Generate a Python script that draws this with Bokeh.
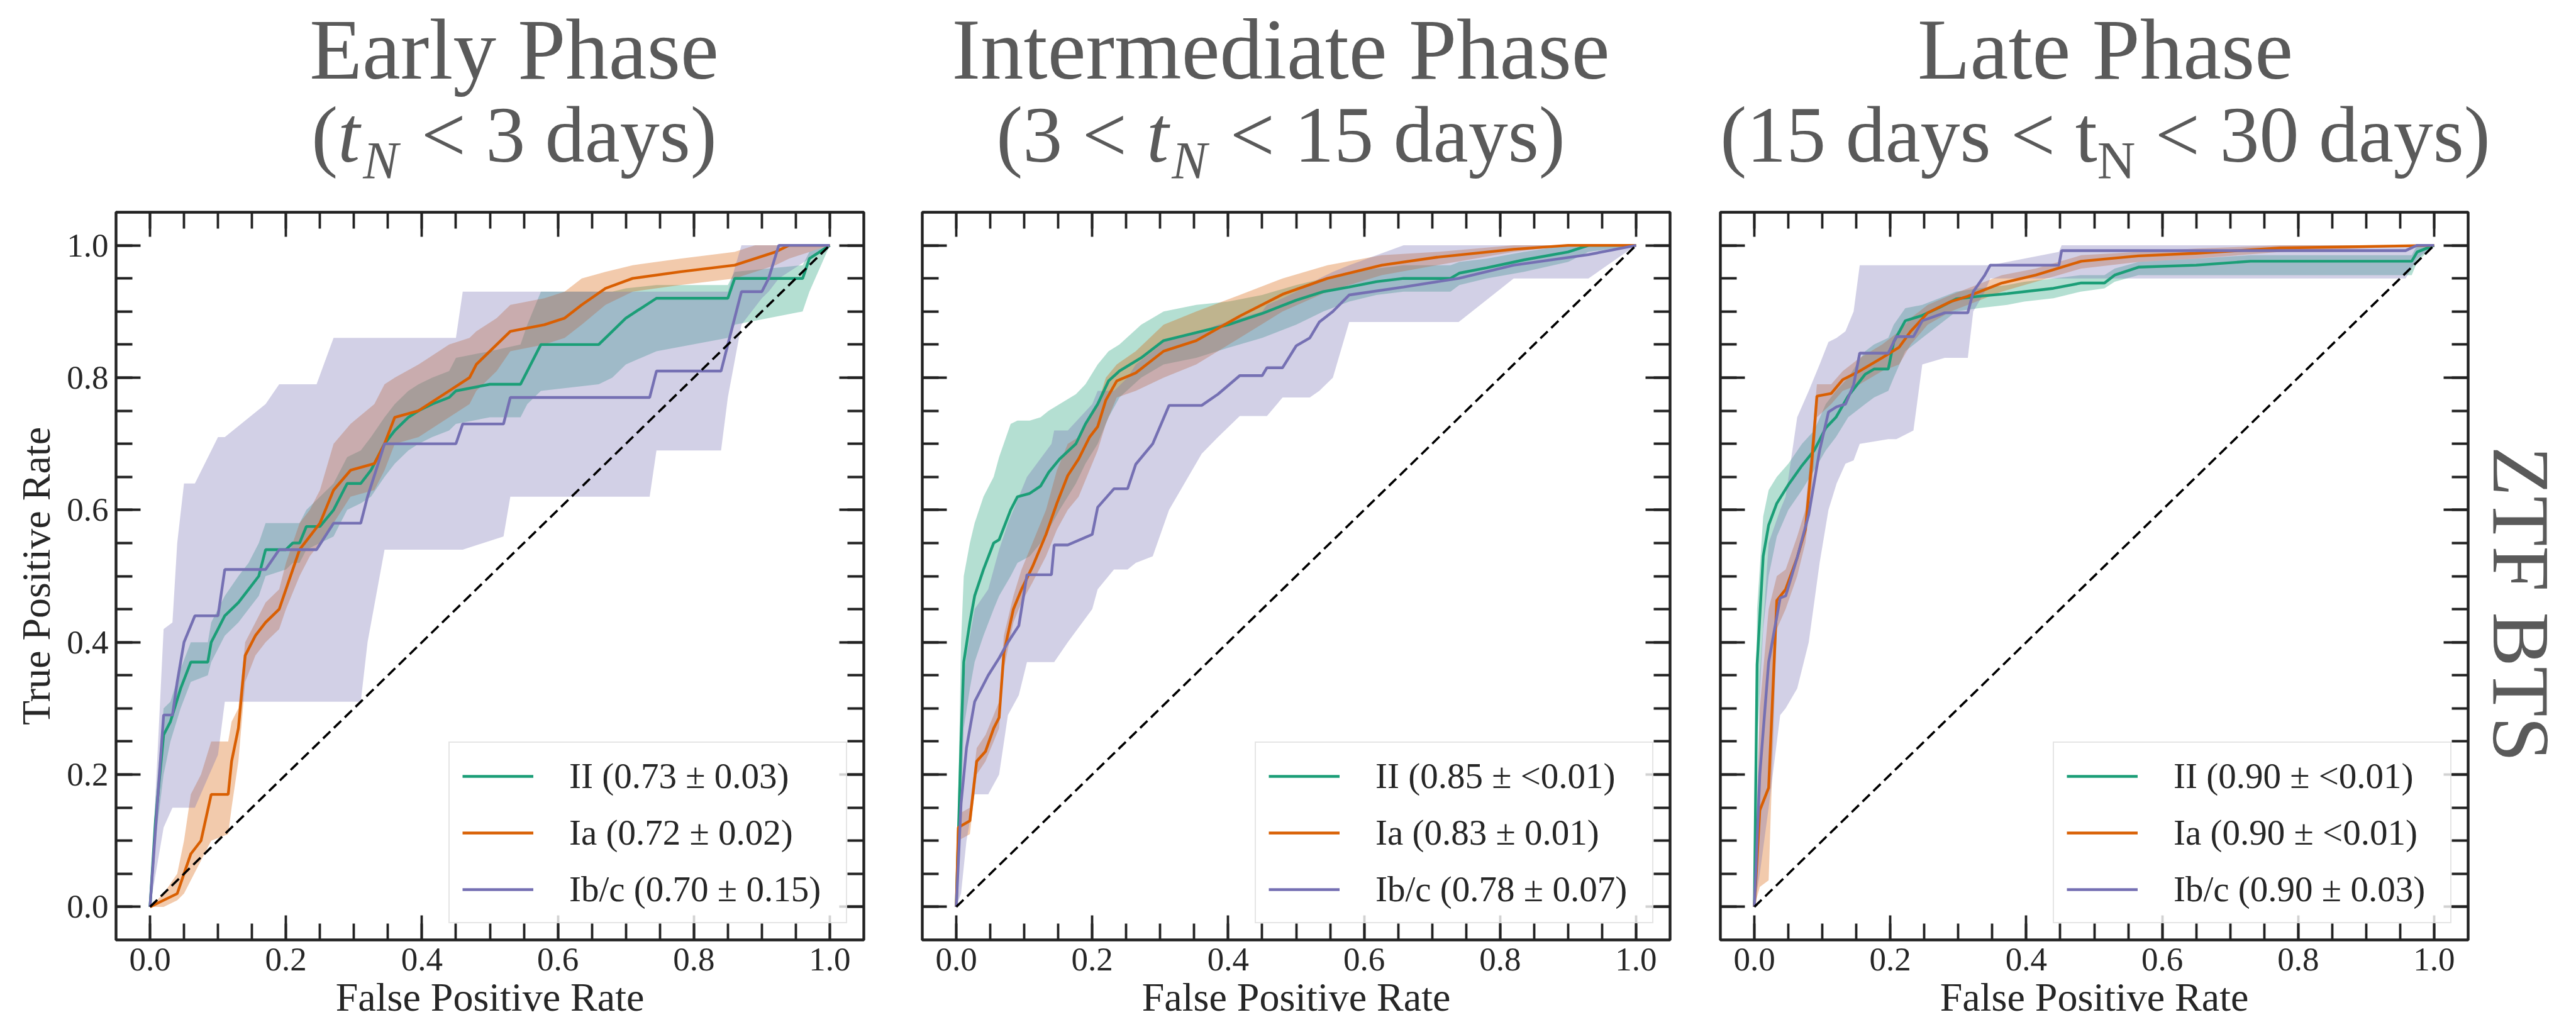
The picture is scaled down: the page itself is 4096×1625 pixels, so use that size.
import math
from bokeh.plotting import figure
from bokeh.models import (Range1d, FixedTicker, LinearAxis, Legend, LegendItem,
                          NumeralTickFormatter)
from bokeh.core.properties import value
from bokeh.layouts import row, column
from bokeh.embed import file_html
from bokeh.resources import INLINE

# ------------------------------------------------------------------ data
class_names = ["II", "Ia", "Ib/c"]
class_colors = ["#1b9e77", "#d95f02", "#7570b3"]
phase_titles = ["Early Phase", "Intermediate Phase", "Late Phase"]
# second title line: (text, font style, is subscript)
phase_subtitles = [
    [("(", "normal", False), ("t", "italic", False), ("N", "italic", True), (" < 3 days)", "normal", False)],
    [("(3 < ", "normal", False), ("t", "italic", False), ("N", "italic", True), (" < 15 days)", "normal", False)],
    [("(15 days < t", "normal", False), ("N", "normal", True), (" < 30 days)", "normal", False)],
]
legend_labels = [
    ["II (0.73 ± 0.03)", "Ia (0.72 ± 0.02)", "Ib/c (0.70 ± 0.15)"],
    ["II (0.85 ± <0.01)", "Ia (0.83 ± 0.01)", "Ib/c (0.78 ± 0.07)"],
    ["II (0.90 ± <0.01)", "Ia (0.90 ± <0.01)", "Ib/c (0.90 ± 0.03)"],
]
row_label = "ZTF BTS"
x_label = "False Positive Rate"
y_label = "True Positive Rate"
tick_values = [0.0, 0.2, 0.4, 0.6, 0.8, 1.0]
minor_tick_values = [0.0, 0.05, 0.1, 0.15, 0.2, 0.25, 0.3, 0.35, 0.4, 0.45, 0.5,
                     0.55, 0.6, 0.65, 0.7, 0.75, 0.8, 0.85, 0.9, 0.95, 1.0]
chance_fpr = [0.0, 1.0]
chance_tpr = [0.0, 1.0]

# ---- Early phase
early_ii_fpr = [0.0, 0.008, 0.02, 0.03, 0.045, 0.06, 0.085, 0.09, 0.10, 0.11, 0.13, 0.145, 0.16, 0.17, 0.20, 0.21, 0.22, 0.23, 0.25, 0.27, 0.28, 0.29, 0.31, 0.325, 0.345, 0.36, 0.38, 0.395, 0.415, 0.44, 0.45, 0.50, 0.545, 0.555, 0.575, 0.66, 0.68, 0.70, 0.745, 0.85, 0.86, 0.96, 0.97, 1.0]
early_ii_tpr = [0.0, 0.13, 0.26, 0.28, 0.33, 0.37, 0.37, 0.40, 0.42, 0.44, 0.46, 0.48, 0.50, 0.54, 0.54, 0.55, 0.55, 0.575, 0.575, 0.60, 0.62, 0.64, 0.64, 0.66, 0.70, 0.72, 0.74, 0.75, 0.76, 0.77, 0.78, 0.79, 0.79, 0.81, 0.85, 0.85, 0.87, 0.89, 0.92, 0.92, 0.95, 0.95, 0.98, 1.0]
early_ii_lo = [0.0, 0.10, 0.20, 0.25, 0.30, 0.34, 0.35, 0.37, 0.39, 0.41, 0.43, 0.45, 0.47, 0.50, 0.51, 0.52, 0.52, 0.54, 0.55, 0.56, 0.58, 0.60, 0.61, 0.62, 0.65, 0.67, 0.69, 0.70, 0.71, 0.72, 0.73, 0.74, 0.74, 0.76, 0.78, 0.79, 0.80, 0.82, 0.84, 0.86, 0.88, 0.90, 0.93, 1.0]
early_ii_hi = [0.0, 0.16, 0.30, 0.31, 0.36, 0.40, 0.40, 0.43, 0.45, 0.47, 0.50, 0.52, 0.55, 0.58, 0.58, 0.58, 0.58, 0.60, 0.62, 0.64, 0.66, 0.68, 0.69, 0.71, 0.74, 0.76, 0.78, 0.79, 0.80, 0.81, 0.83, 0.84, 0.85, 0.88, 0.93, 0.93, 0.93, 0.935, 0.94, 0.94, 0.96, 0.97, 0.99, 1.0]

early_ia_fpr = [0.0, 0.02, 0.04, 0.05, 0.06, 0.075, 0.09, 0.115, 0.12, 0.13, 0.14, 0.155, 0.17, 0.19, 0.20, 0.22, 0.235, 0.25, 0.27, 0.295, 0.33, 0.345, 0.36, 0.395, 0.41, 0.44, 0.47, 0.48, 0.51, 0.53, 0.58, 0.61, 0.635, 0.67, 0.71, 0.78, 0.86, 0.89, 0.92, 0.94, 1.0]
early_ia_tpr = [0.0, 0.01, 0.02, 0.05, 0.08, 0.10, 0.17, 0.17, 0.22, 0.27, 0.38, 0.41, 0.43, 0.45, 0.48, 0.54, 0.56, 0.58, 0.63, 0.66, 0.67, 0.70, 0.74, 0.75, 0.76, 0.78, 0.80, 0.82, 0.85, 0.87, 0.88, 0.89, 0.91, 0.935, 0.95, 0.96, 0.97, 0.98, 0.99, 1.0, 1.0]
early_ia_lo = [0.0, 0.0, 0.01, 0.02, 0.04, 0.07, 0.10, 0.11, 0.15, 0.22, 0.34, 0.38, 0.40, 0.42, 0.45, 0.50, 0.53, 0.55, 0.58, 0.62, 0.63, 0.66, 0.70, 0.71, 0.72, 0.74, 0.76, 0.78, 0.81, 0.84, 0.85, 0.86, 0.88, 0.91, 0.93, 0.94, 0.95, 0.96, 0.97, 0.98, 1.0]
early_ia_hi = [0.0, 0.02, 0.05, 0.10, 0.17, 0.20, 0.25, 0.25, 0.28, 0.30, 0.40, 0.43, 0.46, 0.48, 0.52, 0.58, 0.60, 0.63, 0.70, 0.73, 0.76, 0.79, 0.80, 0.82, 0.83, 0.85, 0.86, 0.87, 0.89, 0.91, 0.92, 0.93, 0.95, 0.96, 0.97, 0.98, 0.99, 1.0, 1.0, 1.0, 1.0]

early_ibc_fpr = [0.0, 0.02, 0.033, 0.04, 0.05, 0.066, 0.10, 0.11, 0.17, 0.19, 0.245, 0.27, 0.31, 0.32, 0.345, 0.45, 0.46, 0.52, 0.53, 0.735, 0.745, 0.84, 0.85, 0.87, 0.90, 0.91, 0.925, 1.0]
early_ibc_tpr = [0.0, 0.29, 0.29, 0.34, 0.40, 0.44, 0.44, 0.51, 0.51, 0.54, 0.54, 0.58, 0.58, 0.62, 0.70, 0.70, 0.73, 0.73, 0.77, 0.77, 0.81, 0.81, 0.85, 0.93, 0.93, 0.95, 1.0, 1.0]
early_ibc_lo = [0.0, 0.12, 0.15, 0.15, 0.15, 0.15, 0.23, 0.31, 0.31, 0.31, 0.31, 0.31, 0.31, 0.40, 0.54, 0.54, 0.54, 0.56, 0.62, 0.62, 0.69, 0.69, 0.77, 0.88, 0.92, 0.93, 0.95, 1.0]
early_ibc_hi = [0.0, 0.42, 0.43, 0.55, 0.64, 0.64, 0.71, 0.71, 0.76, 0.79, 0.79, 0.86, 0.86, 0.86, 0.86, 0.86, 0.93, 0.93, 0.93, 0.93, 0.93, 0.93, 0.93, 1.0, 1.0, 1.0, 1.0, 1.0]

# ---- Intermediate phase
mid_ii_fpr = [0.0, 0.007, 0.011, 0.02, 0.027, 0.04, 0.055, 0.063, 0.08, 0.09, 0.108, 0.124, 0.136, 0.152, 0.176, 0.19, 0.208, 0.224, 0.24, 0.272, 0.305, 0.353, 0.40, 0.45, 0.50, 0.54, 0.578, 0.618, 0.658, 0.727, 0.74, 0.78, 0.835, 0.90, 0.93, 1.0]
mid_ii_tpr = [0.0, 0.25, 0.37, 0.43, 0.47, 0.51, 0.55, 0.555, 0.60, 0.62, 0.625, 0.636, 0.657, 0.677, 0.70, 0.73, 0.76, 0.795, 0.81, 0.83, 0.856, 0.868, 0.88, 0.897, 0.917, 0.93, 0.937, 0.945, 0.95, 0.95, 0.958, 0.966, 0.978, 0.99, 1.0, 1.0]
mid_ii_lo = [0.0, 0.15, 0.27, 0.33, 0.37, 0.41, 0.45, 0.47, 0.50, 0.52, 0.53, 0.55, 0.57, 0.60, 0.64, 0.67, 0.70, 0.74, 0.77, 0.80, 0.82, 0.83, 0.845, 0.86, 0.88, 0.90, 0.915, 0.925, 0.93, 0.93, 0.94, 0.95, 0.96, 0.975, 0.99, 1.0]
mid_ii_hi = [0.0, 0.40, 0.50, 0.55, 0.58, 0.62, 0.65, 0.68, 0.73, 0.735, 0.735, 0.74, 0.75, 0.76, 0.775, 0.79, 0.82, 0.84, 0.85, 0.88, 0.90, 0.91, 0.915, 0.925, 0.94, 0.95, 0.96, 0.965, 0.97, 0.97, 0.975, 0.98, 0.99, 1.0, 1.0, 1.0]

mid_ia_fpr = [0.0, 0.003, 0.02, 0.03, 0.043, 0.055, 0.063, 0.07, 0.084, 0.096, 0.112, 0.132, 0.148, 0.164, 0.18, 0.196, 0.208, 0.22, 0.236, 0.264, 0.305, 0.353, 0.417, 0.48, 0.546, 0.626, 0.707, 0.82, 0.90, 1.0]
mid_ia_tpr = [0.0, 0.12, 0.13, 0.22, 0.235, 0.27, 0.286, 0.384, 0.45, 0.48, 0.514, 0.563, 0.61, 0.652, 0.677, 0.71, 0.726, 0.766, 0.795, 0.807, 0.84, 0.856, 0.893, 0.926, 0.95, 0.97, 0.982, 0.994, 1.0, 1.0]
mid_ia_lo = [0.0, 0.10, 0.11, 0.20, 0.22, 0.25, 0.27, 0.36, 0.43, 0.46, 0.49, 0.53, 0.57, 0.60, 0.62, 0.66, 0.69, 0.73, 0.77, 0.78, 0.80, 0.82, 0.86, 0.90, 0.93, 0.955, 0.97, 0.99, 1.0, 1.0]
mid_ia_hi = [0.0, 0.14, 0.15, 0.24, 0.26, 0.29, 0.31, 0.41, 0.47, 0.51, 0.55, 0.60, 0.66, 0.70, 0.71, 0.74, 0.76, 0.80, 0.82, 0.84, 0.88, 0.90, 0.925, 0.95, 0.97, 0.985, 0.99, 1.0, 1.0, 1.0]

mid_ibc_fpr = [0.0, 0.007, 0.015, 0.027, 0.047, 0.063, 0.076, 0.092, 0.104, 0.14, 0.144, 0.164, 0.20, 0.208, 0.232, 0.252, 0.264, 0.289, 0.313, 0.361, 0.385, 0.417, 0.45, 0.457, 0.48, 0.50, 0.52, 0.534, 0.554, 0.578, 0.658, 0.739, 0.82, 0.93, 1.0]
mid_ibc_tpr = [0.0, 0.156, 0.24, 0.31, 0.35, 0.376, 0.40, 0.425, 0.502, 0.502, 0.547, 0.547, 0.563, 0.604, 0.632, 0.632, 0.669, 0.70, 0.758, 0.758, 0.775, 0.803, 0.803, 0.815, 0.815, 0.848, 0.86, 0.884, 0.90, 0.925, 0.937, 0.95, 0.97, 0.986, 1.0]
mid_ibc_lo = [0.0, 0.02, 0.10, 0.17, 0.17, 0.20, 0.29, 0.32, 0.37, 0.37, 0.37, 0.40, 0.45, 0.48, 0.51, 0.51, 0.52, 0.53, 0.60, 0.685, 0.71, 0.742, 0.742, 0.742, 0.77, 0.77, 0.77, 0.78, 0.80, 0.884, 0.884, 0.884, 0.95, 0.95, 1.0]
mid_ibc_hi = [0.0, 0.30, 0.38, 0.45, 0.48, 0.54, 0.58, 0.62, 0.65, 0.70, 0.72, 0.72, 0.76, 0.78, 0.78, 0.80, 0.82, 0.84, 0.86, 0.87, 0.88, 0.89, 0.90, 0.91, 0.92, 0.93, 0.94, 0.95, 0.96, 0.97, 1.0, 1.0, 1.0, 1.0, 1.0]

# ---- Late phase
late_ii_fpr = [0.0, 0.004, 0.013, 0.021, 0.033, 0.05, 0.07, 0.088, 0.105, 0.12, 0.138, 0.163, 0.176, 0.197, 0.205, 0.222, 0.247, 0.272, 0.297, 0.33, 0.372, 0.397, 0.44, 0.48, 0.515, 0.53, 0.565, 0.65, 0.73, 0.967, 0.975, 1.0]
late_ii_tpr = [0.0, 0.366, 0.53, 0.577, 0.61, 0.638, 0.667, 0.69, 0.724, 0.74, 0.772, 0.805, 0.813, 0.813, 0.854, 0.886, 0.894, 0.906, 0.919, 0.923, 0.927, 0.93, 0.935, 0.943, 0.943, 0.955, 0.967, 0.97, 0.976, 0.976, 0.99, 1.0]
late_ii_lo = [0.0, 0.25, 0.42, 0.50, 0.56, 0.60, 0.63, 0.66, 0.69, 0.71, 0.74, 0.76, 0.77, 0.78, 0.80, 0.84, 0.86, 0.88, 0.90, 0.905, 0.91, 0.915, 0.92, 0.93, 0.935, 0.945, 0.955, 0.955, 0.955, 0.955, 0.975, 1.0]
late_ii_hi = [0.0, 0.45, 0.59, 0.63, 0.65, 0.67, 0.70, 0.72, 0.76, 0.78, 0.80, 0.84, 0.85, 0.86, 0.88, 0.905, 0.91, 0.92, 0.93, 0.935, 0.94, 0.945, 0.95, 0.955, 0.955, 0.965, 0.975, 0.98, 0.985, 0.985, 1.0, 1.0]

late_ia_fpr = [0.0, 0.008, 0.021, 0.033, 0.046, 0.063, 0.075, 0.084, 0.092, 0.113, 0.13, 0.155, 0.188, 0.213, 0.23, 0.255, 0.289, 0.314, 0.364, 0.414, 0.481, 0.565, 0.649, 0.774, 1.0]
late_ia_tpr = [0.0, 0.146, 0.18, 0.463, 0.48, 0.528, 0.57, 0.667, 0.772, 0.776, 0.797, 0.81, 0.83, 0.846, 0.87, 0.898, 0.915, 0.923, 0.943, 0.955, 0.976, 0.984, 0.988, 0.996, 1.0]
late_ia_lo = [0.0, 0.03, 0.04, 0.42, 0.45, 0.50, 0.55, 0.62, 0.74, 0.76, 0.78, 0.79, 0.81, 0.82, 0.85, 0.88, 0.90, 0.91, 0.93, 0.945, 0.965, 0.975, 0.98, 0.99, 1.0]
late_ia_hi = [0.0, 0.30, 0.45, 0.50, 0.51, 0.56, 0.60, 0.70, 0.79, 0.79, 0.81, 0.83, 0.85, 0.87, 0.89, 0.91, 0.925, 0.935, 0.955, 0.965, 0.985, 0.99, 0.995, 1.0, 1.0]

late_ibc_fpr = [0.0, 0.008, 0.021, 0.038, 0.046, 0.063, 0.08, 0.096, 0.109, 0.121, 0.134, 0.146, 0.155, 0.197, 0.209, 0.234, 0.247, 0.28, 0.314, 0.322, 0.339, 0.347, 0.448, 0.452, 0.958, 0.975, 1.0]
late_ibc_tpr = [0.0, 0.20, 0.37, 0.467, 0.47, 0.528, 0.593, 0.69, 0.748, 0.756, 0.76, 0.789, 0.837, 0.837, 0.862, 0.862, 0.886, 0.898, 0.898, 0.93, 0.955, 0.97, 0.97, 0.992, 0.992, 1.0, 1.0]
late_ibc_lo = [0.0, 0.05, 0.15, 0.29, 0.30, 0.33, 0.40, 0.52, 0.60, 0.64, 0.67, 0.675, 0.70, 0.707, 0.707, 0.72, 0.82, 0.83, 0.83, 0.90, 0.93, 0.95, 0.95, 0.95, 0.95, 0.98, 1.0]
late_ibc_hi = [0.0, 0.35, 0.55, 0.60, 0.62, 0.74, 0.78, 0.82, 0.854, 0.86, 0.87, 0.90, 0.97, 0.97, 0.97, 0.97, 0.97, 0.97, 0.97, 0.97, 0.97, 0.97, 0.99, 1.0, 1.0, 1.0, 1.0]

panel_curves = [
    [(early_ii_fpr, early_ii_tpr, early_ii_lo, early_ii_hi),
     (early_ia_fpr, early_ia_tpr, early_ia_lo, early_ia_hi),
     (early_ibc_fpr, early_ibc_tpr, early_ibc_lo, early_ibc_hi)],
    [(mid_ii_fpr, mid_ii_tpr, mid_ii_lo, mid_ii_hi),
     (mid_ia_fpr, mid_ia_tpr, mid_ia_lo, mid_ia_hi),
     (mid_ibc_fpr, mid_ibc_tpr, mid_ibc_lo, mid_ibc_hi)],
    [(late_ii_fpr, late_ii_tpr, late_ii_lo, late_ii_hi),
     (late_ia_fpr, late_ia_tpr, late_ia_lo, late_ia_hi),
     (late_ibc_fpr, late_ibc_tpr, late_ibc_lo, late_ibc_hi)],
]

# ------------------------------------------------------------------ style / geometry (page px)
FONT = "Liberation Serif"
INK = "#262626"
GRAY = "#5a5a5a"
FRAME_W, FRAME_H = 1189, 1157
HEADER_H = 327          # title strip above the panels
GAP_TOP = 10            # between title strip and frames
BOTTOM = 131
LEFTS = [184, 46, 45]
RIGHTS = [47, 35, 5]
TITLE_CENTER_PAGE = [817, 2036, 3347]
TITLE1_SIZE, TITLE2_SIZE, SUB_SIZE = 137, 126, 84
TITLE1_BASE, TITLE2_BASE, SUB_DROP = 125, 257, 27
BASE_FIX = 0.34          # renderer places the alphabetic anchor this many em too low
ITALIC_GAP = 5
ZTF_X_PAGE, ZTF_Y_PAGE, ZTF_SIZE = 4008, 1026, 130
PAGE_W, PAGE_H = 4096, 1625

# Times-compatible advance widths (per 1000 em) for Liberation Serif
W_UP = {' ': 250, '(': 333, ')': 333, '<': 564, 'a': 444, 'd': 500, 'y': 500,
        's': 389, 't': 278, 'N': 722}
W_IT = {'t': 278, 'N': 667}


def text_width(s, size, style):
    table = W_IT if style == "italic" else W_UP
    return sum(table.get(c, 500) for c in s) / 1000.0 * size


def blank_figure(w, h):
    f = figure(width=w, height=h, x_range=Range1d(0, w), y_range=Range1d(0, h),
               x_axis_location=None, y_axis_location=None,
               output_backend="svg", toolbar_location=None, tools="",
               min_border=0)
    f.outline_line_color = None
    f.background_fill_color = "white"
    f.border_fill_color = "white"
    f.xgrid.visible = False
    f.ygrid.visible = False
    return f


def style_axis(ax, labelled):
    ax.ticker = FixedTicker(ticks=tick_values, minor_ticks=minor_tick_values)
    ax.axis_line_color = None
    ax.major_tick_in = 39
    ax.major_tick_out = 0
    ax.minor_tick_in = 26
    ax.minor_tick_out = 0
    ax.major_tick_line_width = 3.8
    ax.minor_tick_line_width = 3.8
    ax.major_tick_line_color = "#222222"
    ax.minor_tick_line_color = "#222222"
    if labelled:
        ax.formatter = NumeralTickFormatter(format="0.0")
        ax.major_label_text_font = FONT
        ax.major_label_text_font_size = "53px"
        ax.major_label_text_color = INK
    else:
        ax.major_label_text_color = None
        ax.major_label_text_font_size = "1px"
        ax.major_label_standoff = 0


def header_text(h, x, y_page, txt, size, style, align):
    y = HEADER_H - (y_page - BASE_FIX * size)
    h.text(x=[x], y=[y], text=[txt], text_font=value(FONT),
           text_font_style=value(style), text_font_size=value(f"{size}px"),
           text_color=GRAY, text_align=align, text_baseline="alphabetic")


def make_header():
    h = blank_figure(PAGE_W, HEADER_H)
    for i in range(3):
        cx = TITLE_CENTER_PAGE[i]
        header_text(h, cx, TITLE1_BASE, phase_titles[i], TITLE1_SIZE, "normal", "center")
        parts = phase_subtitles[i]
        widths = []
        for t, st, sub in parts:
            wd = text_width(t, SUB_SIZE if sub else TITLE2_SIZE, st)
            if st == "italic":
                wd += ITALIC_GAP
            widths.append(wd)
        x0 = cx - sum(widths) / 2.0
        for (t, st, sub), wd in zip(parts, widths):
            size = SUB_SIZE if sub else TITLE2_SIZE
            lead = len(t) - len(t.lstrip(" "))
            xs = x0 + text_width(" " * lead, size, st)
            yb = TITLE2_BASE + (SUB_DROP if sub else 0)
            header_text(h, xs, yb, t.strip(" "), size, st, "left")
            x0 += wd
    return h


def make_panel(i):
    p = figure(frame_width=FRAME_W, frame_height=FRAME_H,
               min_border_left=LEFTS[i], min_border_right=RIGHTS[i],
               min_border_top=GAP_TOP, min_border_bottom=BOTTOM,
               x_range=Range1d(-0.05, 1.05), y_range=Range1d(-0.05, 1.05),
               output_backend="svg", toolbar_location=None, tools="")
    p.grid.visible = False
    p.background_fill_color = "white"
    p.border_fill_color = "white"
    p.outline_line_color = "#222222"
    p.outline_line_width = 4.4
    p.outline_line_alpha = 1.0
    p.add_layout(LinearAxis(), "above")
    p.add_layout(LinearAxis(), "right")

    style_axis(p.below[0], True)
    style_axis(p.above[0], False)
    style_axis(p.right[0], False)
    style_axis(p.left[0], i == 0)

    bx = p.below[0]
    bx.major_label_standoff = 13
    bx.axis_label = x_label
    bx.axis_label_text_font = FONT
    bx.axis_label_text_font_size = "64px"
    bx.axis_label_text_font_style = "normal"
    bx.axis_label_text_color = INK
    bx.axis_label_standoff = 4
    if i == 0:
        ly = p.left[0]
        ly.major_label_standoff = 12
        ly.axis_label = y_label
        ly.axis_label_text_font = FONT
        ly.axis_label_text_font_size = "64px"
        ly.axis_label_text_font_style = "normal"
        ly.axis_label_text_color = INK
        ly.axis_label_standoff = 10

    curves = panel_curves[i]
    for (fx, ty, lo, hi), col in zip(curves, class_colors):
        p.varea(x=fx, y1=lo, y2=hi, fill_color=col, fill_alpha=0.33)
    lines = []
    for (fx, ty, lo, hi), col in zip(curves, class_colors):
        lines.append(p.line(fx, ty, line_color=col, line_width=4.4))
    p.line(chance_fpr, chance_tpr, line_color="black", line_width=3.6, line_dash="16 8")

    legend = Legend(items=[LegendItem(label=lab, renderers=[r])
                           for lab, r in zip(legend_labels[i], lines)],
                    location="bottom_right")
    legend.label_text_font = FONT
    legend.label_text_font_size = "57px"
    legend.label_text_color = INK
    legend.glyph_width = 113
    legend.glyph_height = 40
    legend.label_height = 40
    legend.label_width = 420
    legend.label_standoff = 57
    legend.spacing = 25
    legend.padding = 20
    legend.margin = 26
    legend.border_line_color = "#cccccc"
    legend.border_line_width = 2.5
    legend.background_fill_alpha = 0.8
    p.add_layout(legend)
    return p


panels = [make_panel(i) for i in range(3)]
panel_widths = [LEFTS[i] + FRAME_W + RIGHTS[i] for i in range(3)]
z_left = sum(panel_widths)
zw = PAGE_W - z_left
zh = GAP_TOP + FRAME_H + BOTTOM
zfig = blank_figure(zw, zh)
zfig.text(x=[ZTF_X_PAGE - z_left], y=[zh - (ZTF_Y_PAGE - HEADER_H)], text=[row_label],
          angle=-math.pi / 2, text_font=value(FONT),
          text_font_size=value(f"{ZTF_SIZE}px"), text_color=GRAY,
          text_align="center", text_baseline="middle")

layout = column(make_header(), row(*panels, zfig))
open("out.html", "w").write(file_html(layout, INLINE, title="ROC curves"))
